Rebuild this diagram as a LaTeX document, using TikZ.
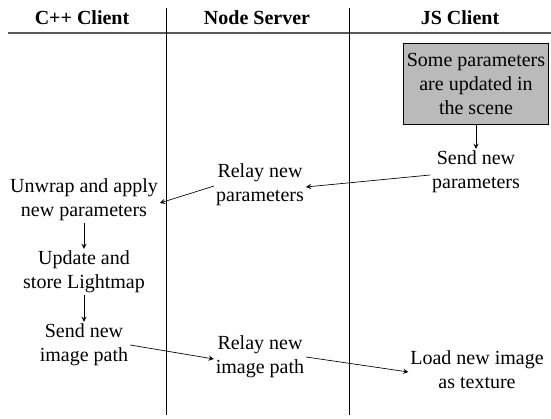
\documentclass[tikz,border=0pt]{standalone}
\usepackage{fontspec}
\setmainfont{Liberation Serif}
\usepackage{tikz}

\begin{document}
\begin{tikzpicture}[x=0.6pt,y=-0.6pt,
  lane/.style={align=center, font=\bfseries\fontsize{12}{14.4}\selectfont},
  stage/.style={align=center, inner sep=1pt, font=\fontsize{12}{14.4}\selectfont},
  flow/.style={->, >=stealth, thin}]
\useasboundingbox (0,0) rectangle (551,419);

% lanes
\node[lane] (cpp) at (82,18) {C++ Client};
\node[lane] (srv) at (257,18) {Node Server};
\node[lane] (js) at (460,18) {JS Client};
\draw[black!65, line width=0.9pt] (8,33) -- (551,33);
\draw[thin] (166,8) -- (166,415);
\draw[thin] (349,8) -- (349,415);

% JS side
\node[stage, draw, fill=black!27, minimum width=145*0.6pt, minimum height=81*0.6pt] (scene) at (476,84) {Some parameters\\are updated in\\the scene};
\node[stage] (sendpar) at (476,172) {Send new\\parameters};
\node[stage] (loadimg) at (477,370) {Load new image\\as texture};

% server
\node[stage] (relaypar) at (260,185) {Relay new\\parameters};
\node[stage] (relayimg) at (260,357) {Relay new\\image path};

% C++ side
\node[stage] (unwrap) at (84,200) {Unwrap and apply\\new parameters};
\node[stage] (update) at (84,272) {Update and\\store Lightmap};
\node[stage] (sendimg) at (84,345) {Send new\\image path};

\draw[flow] (scene) -- (sendpar);
\draw[flow] (sendpar.west) ++(0,3) -- ([yshift=-1.2pt]relaypar.east);
\draw[flow] (relaypar.west) ++(0,1) -- ([yshift=-1.8pt]unwrap.east);
\draw[flow] (unwrap) -- (update);
\draw[flow] (update) -- (sendimg);
\draw[flow] (sendimg.east) -- ([yshift=-1.2pt]relayimg.west);
\draw[flow] (relayimg.east) -- ([yshift=-1.2pt]loadimg.west);
\end{tikzpicture}
\end{document}
